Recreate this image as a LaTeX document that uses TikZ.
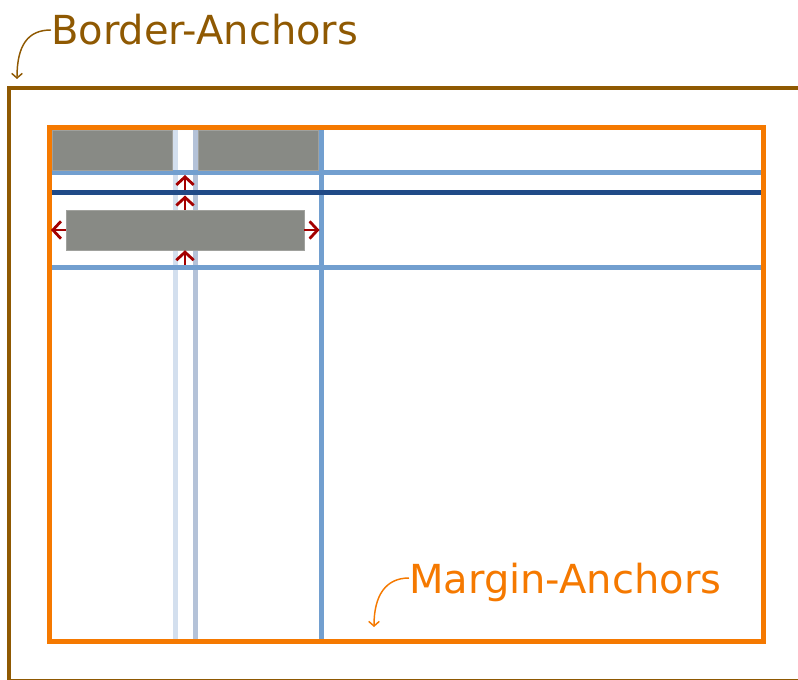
\documentclass[tikz,border=0pt]{standalone}
\usepackage{fontspec}
\setmainfont{DejaVu Sans}
\usetikzlibrary{arrows.meta}
\definecolor{brownc}{HTML}{8F5902}
\definecolor{orangec}{HTML}{F57900}
\definecolor{greyc}{HTML}{888A85}
\definecolor{midblue}{HTML}{729FCF}
\definecolor{darkblue}{HTML}{204A87}
\definecolor{paleblue}{HTML}{D3DFEE}
\definecolor{greyblue}{HTML}{B4C2D8}
\definecolor{redc}{HTML}{A40000}
\tikzset{
  cellbox/.style={fill=greyc, draw=greyc!80!white, line width=0.4pt, inner sep=0pt, minimum width=#1},
  cellbox/.default=90pt,
  gridline/.style={line width=3.75pt},
  redarrow/.style={redc, line width=2.1pt, -{Straight Barb[length=6pt,width=13pt]}},
  labelarrow/.style={line width=1.1pt, -{Straight Barb[length=3.5pt,width=8pt]}},
  label/.style={font=\fontsize{30}{36}\selectfont, inner sep=0pt, anchor=base west}
}
\begin{document}
\begin{tikzpicture}[x=0.75pt,y=-0.75pt]
\useasboundingbox (0,0) rectangle (798,680);
\clip (0,0) rectangle (798,680);
% border
\draw[brownc, line width=3.2pt] (9,88) rectangle (840,681.5);
% vertical grid lines
\draw[gridline, paleblue] (175,130) -- (175,639);
\draw[gridline, greyblue] (195,130) -- (195,639);
\draw[gridline, midblue] (321.5,130) -- (321.5,639);
% horizontal grid lines
\draw[gridline, midblue] (51,172.5) -- (761,172.5);
\draw[gridline, darkblue] (51,193) -- (761,193);
\draw[gridline, midblue] (51,267.5) -- (761,267.5);
% margin box
\draw[orangec, line width=3.75pt] (49,127.5) rectangle (763.5,641.5);
% cells
\node[cellbox=90pt, minimum height=30pt] (c1) at (112,150) {};
\node[cellbox=90pt, minimum height=30pt] (c2) at (258,150) {};
\node[cellbox=178.5pt, minimum height=30pt] (c3) at (185,230) {};
% targets
\coordinate (mleft) at (51,230);
\coordinate (mright) at (319.5,230);
\coordinate (dline) at (185,195.5);
\coordinate (dlinetop) at (185,190.5);
\coordinate (lline) at (185,175);
\coordinate (bline) at (185,265);
\draw[redarrow] (c3.west) -- (mleft);
\draw[redarrow] (c3.east) -- (mright);
\draw[redarrow] (c3.north -| dline) -- (dline);
\draw[redarrow] (dlinetop) -- (lline);
\draw[redarrow] (bline) -- (c3.south -| bline);
% labels
\node[label, text=brownc] (bl) at (51,45) {Border-Anchors};
\coordinate (btip) at (17,79);
\draw[labelarrow, brownc] (bl.west |- 0,30) .. controls (28,30) and (17,45) .. (btip);
\node[label, text=orangec] (ml) at (409,593) {Margin-Anchors};
\coordinate (mtip) at (374,627);
\draw[labelarrow, orangec] (ml.west |- 0,578) .. controls (386,578) and (374,595) .. (mtip);
\end{tikzpicture}
\end{document}
